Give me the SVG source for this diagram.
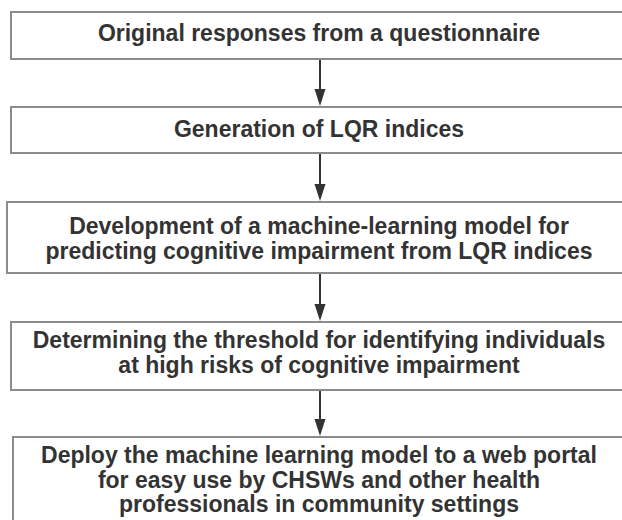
<svg xmlns="http://www.w3.org/2000/svg" width="622" height="520" viewBox="0 0 622 520">
<style>
.box{fill:#fff;stroke:#8c8c8c;stroke-width:2}
.t{font-family:"Liberation Sans",Arial,sans-serif;font-weight:bold;font-size:23px;fill:#333;text-anchor:middle}
.c{stroke:#333;stroke-width:2;fill:none}
.h{fill:#333}
</style>
<rect width="622" height="520" fill="#fff"/>
<g id="connectors">
<line class="c" x1="320" y1="60" x2="320" y2="90"/>
<path class="h" d="M314.5,89 L325.5,89 L320,106 Z"/>
<line class="c" x1="320" y1="154" x2="320" y2="185"/>
<path class="h" d="M314.5,184 L325.5,184 L320,201 Z"/>
<line class="c" x1="320" y1="274" x2="320" y2="305"/>
<path class="h" d="M314.5,304 L325.5,304 L320,321 Z"/>
<line class="c" x1="320" y1="391" x2="320" y2="420"/>
<path class="h" d="M314.5,419 L325.5,419 L320,436 Z"/>
</g>
<g id="n1">
<rect class="box" x="11" y="12" width="620" height="47"/>
<text class="t" x="319" y="41">Original responses from a questionnaire</text>
</g>
<g id="n2">
<rect class="box" x="11" y="107" width="620" height="46"/>
<text class="t" x="319" y="137">Generation of LQR indices</text>
</g>
<g id="n3">
<rect class="box" x="7" y="202" width="624" height="71"/>
<text class="t" x="319" y="234">Development of a machine-learning model for</text>
<text class="t" x="319" y="259">predicting cognitive impairment from LQR indices</text>
</g>
<g id="n4">
<rect class="box" x="11" y="322" width="620" height="68"/>
<text class="t" x="319" y="348">Determining the threshold for identifying individuals</text>
<text class="t" x="319" y="373">at high risks of cognitive impairment</text>
</g>
<g id="n5">
<rect class="box" x="13" y="437" width="620" height="100"/>
<text class="t" x="319" y="463">Deploy the machine learning model to a web portal</text>
<text class="t" x="319" y="488">for easy use by CHSWs and other health</text>
<text class="t" x="319" y="512">professionals in community settings</text>
</g>
</svg>
